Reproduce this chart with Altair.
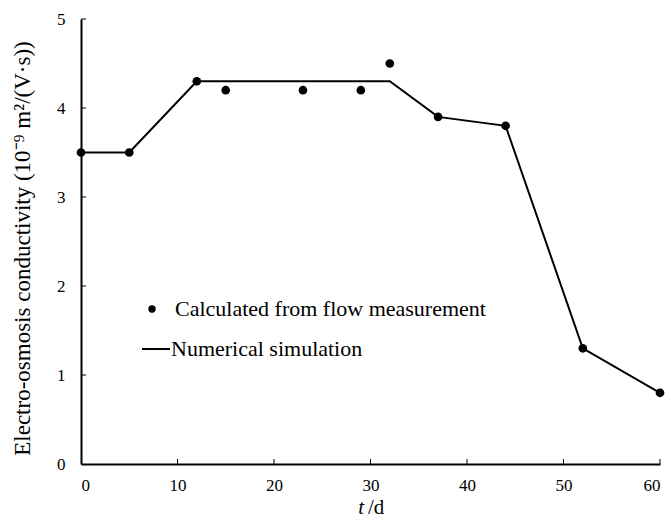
import altair as alt
import pandas as pd

# measured points
meas_t = [0, 5, 12, 15, 23, 29, 32, 37, 44, 52, 60]
meas_k = [3.5, 3.5, 4.3, 4.2, 4.2, 4.2, 4.5, 3.9, 3.8, 1.3, 0.8]
# simulation line
sim_t = [0, 5, 12, 32, 37, 44, 52, 60]
sim_k = [3.5, 3.5, 4.3, 4.3, 3.9, 3.8, 1.3, 0.8]
x_ticks = [10, 20, 30, 40, 50, 60]
y_ticks = [1, 2, 3, 4, 5]
legend_labels = ["Calculated from flow measurement", "Numerical simulation"]
y_title = "Electro-osmosis conductivity (10⁻⁹ m²/(V·s))"

FONT = "Liberation Serif"
W, H = 579, 445

meas = pd.DataFrame({"t": meas_t, "k": meas_k})
sim = pd.DataFrame({"t": sim_t, "k": sim_k})

xs = alt.Scale(domain=[0, 60], nice=False)
ys = alt.Scale(domain=[0, 5], nice=False)

xaxis = alt.Axis(values=[0, 10, 20, 30, 40, 50, 60], ticks=False, labelPadding=13,
                 title=None, format="d", labelFont=FONT, labelFontSize=17)
yaxis = alt.Axis(values=[0, 1, 2, 3, 4, 5], ticks=False, labelPadding=16,
                 title=y_title, titlePadding=22, titleY=229, format="d", labelFont=FONT,
                 labelFontSize=17, titleFont=FONT, titleFontSize=23)

line = alt.Chart(sim).mark_line(color="black", strokeWidth=2).encode(
    x=alt.X("t:Q", scale=xs, axis=xaxis),
    y=alt.Y("k:Q", scale=ys, axis=yaxis),
)
pts = alt.Chart(meas).mark_point(filled=True, color="black", size=75, opacity=1).encode(
    x=alt.X("t:Q", scale=xs),
    y=alt.Y("k:Q", scale=ys),
)

xt = alt.Chart(pd.DataFrame({"t": x_ticks})).mark_rule(color="black", strokeWidth=1).encode(
    x=alt.X("t:Q", scale=xs), y=alt.value(H), y2=alt.value(H - 5)
)
yt = alt.Chart(pd.DataFrame({"k": y_ticks})).mark_rule(color="black", strokeWidth=1).encode(
    y=alt.Y("k:Q", scale=ys), x=alt.value(0), x2=alt.value(5)
)

leg_pt = alt.Chart(pd.DataFrame({"a": [0]})).mark_point(filled=True, color="black", size=55, opacity=1).encode(
    x=alt.value(71), y=alt.value(290)
)
leg_ln = alt.Chart(pd.DataFrame({"a": [0]})).mark_rule(color="black", strokeWidth=2).encode(
    x=alt.value(61), x2=alt.value(89), y=alt.value(330)
)
leg_t1 = alt.Chart(pd.DataFrame({"label": [legend_labels[0]]})).mark_text(
    font=FONT, fontSize=22, align="left", baseline="middle", color="black"
).encode(x=alt.value(94), y=alt.value(290), text="label:N")
leg_t2 = alt.Chart(pd.DataFrame({"label": [legend_labels[1]]})).mark_text(
    font=FONT, fontSize=22, align="left", baseline="middle", color="black"
).encode(x=alt.value(90), y=alt.value(330), text="label:N")

xt1 = alt.Chart(pd.DataFrame({"label": ["t"]})).mark_text(
    font=FONT, fontSize=21, fontStyle="italic", align="right", baseline="middle", color="black"
).encode(x=alt.value(283), y=alt.value(489), text="label:N")
xt2 = alt.Chart(pd.DataFrame({"label": ["/d"]})).mark_text(
    font=FONT, fontSize=21, align="left", baseline="middle", color="black"
).encode(x=alt.value(287), y=alt.value(489), text="label:N")

chart = alt.layer(line, pts, xt, yt, leg_pt, leg_ln, leg_t1, leg_t2, xt1, xt2).properties(
    width=W, height=H,
    autosize=alt.AutoSizeParams(type="none"),
    padding={"left": 81, "top": 19, "right": 11, "bottom": 58},
).configure_view(stroke=None).configure_axis(
    grid=False, domainColor="black", domainWidth=2,
    labelFont=FONT, labelFontSize=17, labelColor="black",
    titleFont=FONT, titleFontSize=23, titleFontWeight="normal", titleColor="black",
)

chart.save("out.html", embed_options={"renderer": "svg", "actions": False})
